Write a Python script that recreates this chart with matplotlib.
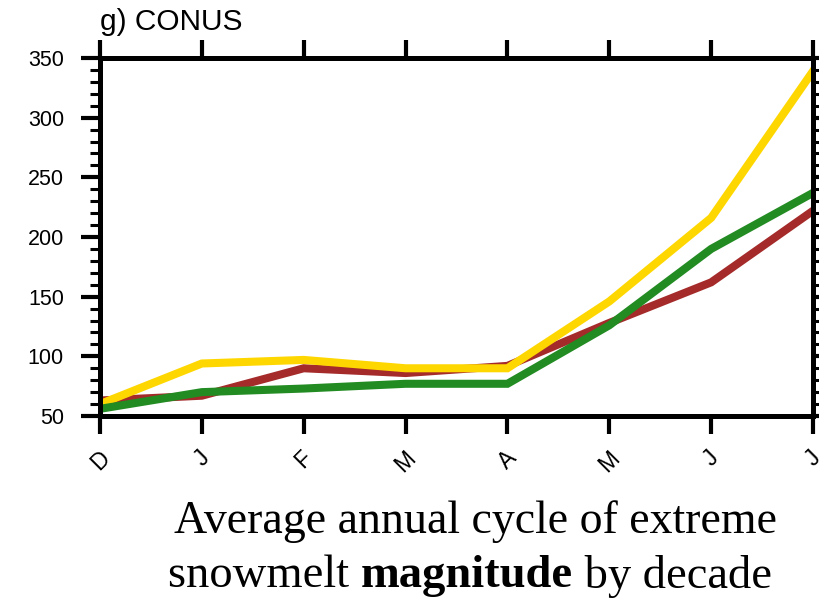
import numpy as np
import matplotlib.pyplot as plt
import matplotlib.transforms as mtransforms
from matplotlib.ticker import MultipleLocator

# monthly extreme snowmelt magnitude, Dec through Jul
months = ['D', 'J', 'F', 'M', 'A', 'M', 'J', 'J']
dec_red = [63, 67, 90, 86, 92, 128, 162, 222]
dec_yellow = [60, 94, 97, 90, 90, 146, 216, 339]
dec_green = [56, 70, 73, 77, 77, 126, 190, 237]

fig = plt.figure(figsize=(8.2, 6.0), dpi=100)
ax = fig.add_axes([100/820, 1 - 416/600, 713/820, (416 - 58)/600])

x = np.arange(len(months))
lw = 5.8
ax.plot(x, dec_red, color='#A52A2A', lw=lw, solid_joinstyle='miter', zorder=2)
ax.plot(x, dec_yellow, color='#FFD700', lw=lw, solid_joinstyle='miter', zorder=3)
ax.plot(x, dec_green, color='#228B22', lw=lw, solid_joinstyle='miter', zorder=4)

ax.set_xlim(0, 7)
ax.set_ylim(50, 350)
ax.set_xticks(x)
ax.set_xticklabels(months, rotation=45, ha='center', va='top',
                   fontsize=16.5, family='Liberation Sans')
# nudge the slanted month labels a little to the right
shift = mtransforms.ScaledTranslation(5/100, 0, fig.dpi_scale_trans)
for lab in ax.get_xticklabels():
    lab.set_transform(lab.get_transform() + shift)

ax.yaxis.set_major_locator(MultipleLocator(50))
ax.yaxis.set_minor_locator(MultipleLocator(10))
for lab in ax.get_yticklabels():
    lab.set_family('Liberation Sans')
    lab.set_fontsize(15.5)

for sp in ax.spines.values():
    sp.set_linewidth(3.6)
    sp.set_zorder(5)

ax.tick_params(axis='y', which='major', direction='out', length=14, width=3,
               pad=12, left=True, right=True)
ax.tick_params(axis='y', which='minor', direction='out', length=7, width=2.2,
               left=True, right=True)
ax.tick_params(axis='x', which='major', direction='out', length=13, width=3,
               pad=9, top=True, bottom=True)
for t in ax.xaxis.get_major_ticks() + ax.yaxis.get_major_ticks() + ax.yaxis.get_minor_ticks():
    t.tick1line.set_solid_capstyle('round')
    t.tick2line.set_solid_capstyle('round')

fig.text(100/820, 1 - 22/600, 'g) CONUS', fontsize=21.5, family='Liberation Sans',
         ha='left', va='center')

# two-line caption, with one bold word on the second line
serif = 'Liberation Serif'
cx = 476/820
fig.text(cx, 1 - 522/600, 'Average annual cycle of extreme', fontsize=33,
         family=serif, ha='center', va='center')

parts = [('snowmelt ', 'normal'), ('magnitude', 'bold'), (' by decade', 'normal')]
fig.canvas.draw()
renderer = fig.canvas.get_renderer()
texts = []
widths = []
for s, w in parts:
    t = fig.text(0, 1 - 576/600, s, fontsize=33.5, family=serif, weight=w,
                 ha='left', va='center')
    texts.append(t)
    widths.append(t.get_window_extent(renderer).width)
total = sum(widths)
start = 470 - total / 2
for t, w in zip(texts, widths):
    t.set_x(start / 820)
    start += w

fig.savefig('out.png', dpi=100)
